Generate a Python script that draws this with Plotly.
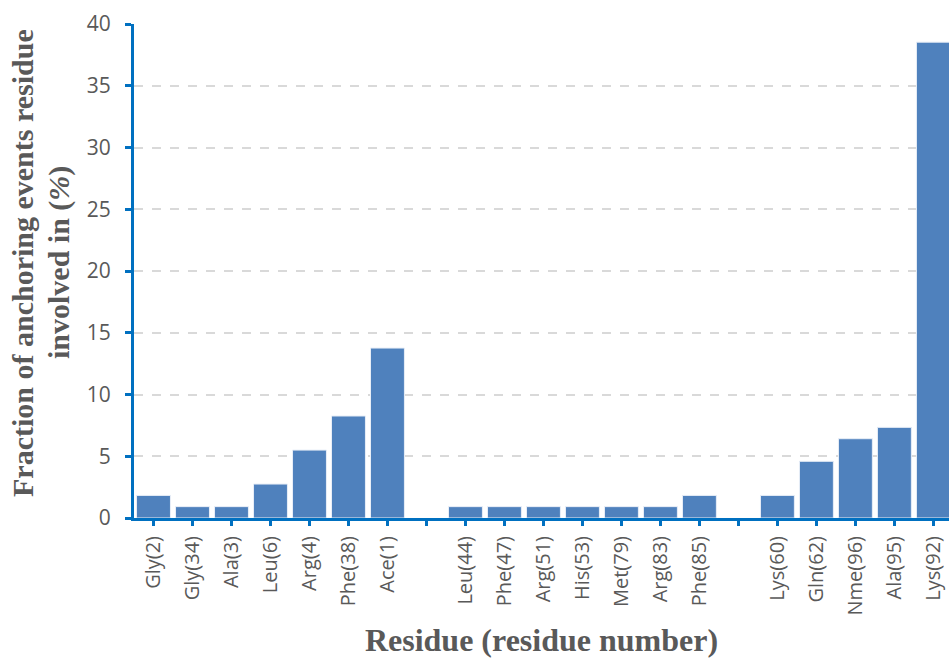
import plotly.graph_objects as go

categories = ["Gly(2)", "Gly(34)", "Ala(3)", "Leu(6)", "Arg(4)", "Phe(38)", "Ace(1)", " ",
              "Leu(44)", "Phe(47)", "Arg(51)", "His(53)", "Met(79)", "Arg(83)", "Phe(85)", "  ",
              "Lys(60)", "Gln(62)", "Nme(96)", "Ala(95)", "Lys(92)"]
values = [1.83, 0.92, 0.92, 2.75, 5.50, 8.26, 13.76, None,
          0.92, 0.92, 0.92, 0.92, 0.92, 0.92, 1.83, None,
          1.83, 4.59, 6.42, 7.34, 38.53]
y_ticks = [0, 5, 10, 15, 20, 25, 30, 35, 40]
y_title_lines = ["<b>Fraction of anchoring events residue</b>",
                 "<b>involved in (<i>%</i>)</b>"]
x_title = "<b>Residue (residue number)</b>"

blue_axis = "#0070C0"
grey_text = "#595959"

fig = go.Figure(go.Bar(
    x=categories, y=values,
    marker=dict(color="#4F81BD", line=dict(color="#E8EEF7", width=1)),
))

fig.update_layout(
    width=949, height=658,
    margin=dict(l=134, r=0, t=24, b=140),
    plot_bgcolor="white", paper_bgcolor="white",
    bargap=0.13, showlegend=False,
    font=dict(family="Open Sans", color=grey_text, size=20),
)
fig.update_xaxes(
    type="category", categoryorder="array", categoryarray=categories,
    range=[-0.5, 20.4],
    showline=True, linecolor=blue_axis, linewidth=3,
    ticks="outside", ticklen=5, tickwidth=3, tickcolor=blue_axis,
    tickangle=-90, tickfont=dict(size=20, color=grey_text),
    ticklabelstandoff=2,
    showgrid=False,
    title=dict(text=x_title,
               font=dict(family="Liberation Serif", size=32, color=grey_text),
               standoff=19),
)
fig.update_yaxes(
    range=[0, 40], tickvals=y_ticks,
    showline=True, linecolor=blue_axis, linewidth=3,
    ticks="outside", ticklen=6, tickwidth=3, tickcolor=blue_axis,
    tickfont=dict(size=21, color=grey_text),
    ticklabelstandoff=10,
    showgrid=True, gridcolor="#D9D9D9", gridwidth=1.5, griddash="dash",
    zeroline=False,
)
for line_text, shift in zip(y_title_lines, [-112, -75]):
    fig.add_annotation(
        text=line_text, textangle=-90, showarrow=False,
        xref="paper", yref="paper", x=0, y=0.5,
        xanchor="center", yanchor="middle", xshift=shift, yshift=8,
        font=dict(family="Liberation Serif", size=30, color=grey_text),
    )

fig.write_html("out.html", config={"displayModeBar": False},
               post_script="document.body.style.margin='0px';")
